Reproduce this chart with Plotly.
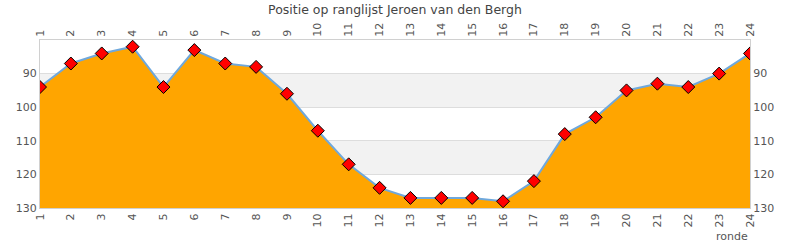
import plotly.graph_objects as go

rondes = list(range(1, 25))
positie = [94, 87, 84, 82, 94, 83, 87, 88, 96, 107, 117, 124, 127, 127, 127, 128, 122, 108, 103, 95, 93, 94, 90, 84]
y_ticks = [90, 100, 110, 120, 130]
bands = [(90, 100), (110, 120)]
title = "Positie op ranglijst Jeroen van den Bergh"
x_title = "ronde"
y_bottom = 130

FONT = "DejaVu Sans"
TICKC = "#555555"

fig = go.Figure()
# baseline for the area fill
fig.add_trace(go.Scatter(
    x=rondes, y=[y_bottom] * len(rondes), mode="lines",
    line=dict(width=0, color="rgba(0,0,0,0)"), showlegend=False, hoverinfo="skip",
))
fig.add_trace(go.Scatter(
    x=rondes, y=positie, mode="lines+markers",
    line=dict(color="#6fa8dc", width=2),
    fill="tonexty", fillcolor="#FFA500",
    marker=dict(symbol="diamond", size=10, color="#ff0000",
                line=dict(color="#000000", width=1)),
    hoverinfo="x+y", showlegend=False,
))

shapes = []
for lo, hi in bands:
    shapes.append(dict(type="rect", xref="paper", yref="y", x0=0, x1=1, y0=lo, y1=hi,
                       fillcolor="#f2f2f2", line=dict(width=0), layer="below"))

axis_common = dict(showline=True, linecolor="#d0d0d0", linewidth=1,
                   tickfont=dict(family=FONT, size=11, color=TICKC), ticks="")

fig.update_layout(
    width=790, height=250,
    margin=dict(l=40, r=40, t=40, b=42),
    paper_bgcolor="white", plot_bgcolor="white",
    font=dict(family=FONT),
    title=dict(text=title, x=0.5, xanchor="center", y=0.98, yanchor="top",
               font=dict(family=FONT, size=12.5, color="#444444")),
    shapes=shapes,
    xaxis=dict(range=[1, 24], tickvals=rondes, ticktext=[str(r) for r in rondes],
               tickangle=-90, showgrid=False, zeroline=False, mirror=False,
               **axis_common),
    xaxis2=dict(range=[1, 24], tickvals=rondes, ticktext=[str(r) for r in rondes],
                tickangle=-90, overlaying="x", side="top", showgrid=False,
                zeroline=False, **axis_common),
    yaxis=dict(range=[130, 80], tickvals=y_ticks, showgrid=True, gridcolor="#dddddd",
               zeroline=False, **axis_common),
    yaxis2=dict(range=[130, 80], tickvals=y_ticks, overlaying="y", side="right",
                showgrid=False, zeroline=False, **axis_common),
    annotations=[dict(text=x_title, xref="paper", yref="paper", x=1, y=0,
                      xanchor="right", yanchor="top", yshift=-20, showarrow=False,
                      font=dict(family=FONT, size=11, color=TICKC))],
)
# invisible trace to activate the secondary axes
fig.add_trace(go.Scatter(x=[1, 24], y=[130, 80], xaxis="x2", yaxis="y2", mode="markers",
                         marker=dict(opacity=0), showlegend=False, hoverinfo="skip"))

fig.write_html("out.html")
